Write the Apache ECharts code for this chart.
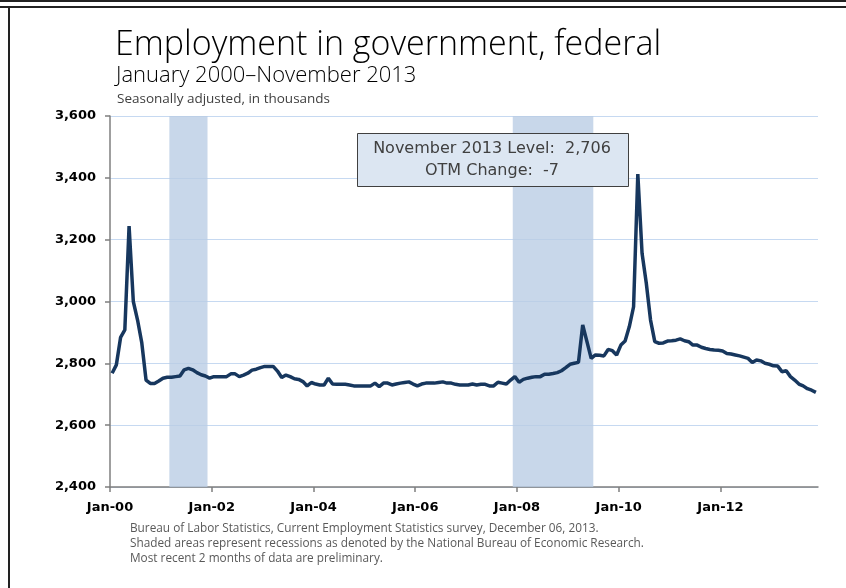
<!DOCTYPE html>
<html>
<head>
<meta charset="utf-8">
<script src="https://cdn.jsdelivr.net/npm/echarts@6/dist/echarts.min.js"></script>
<style>
html,body{margin:0;padding:0;background:#fff;}
#chart{width:846px;height:588px;}
</style>
</head>
<body>
<div id="chart"></div>
<script>
// Monthly federal government employment, thousands, Jan 2000 - Nov 2013
const startYear = 2000;
const values2000 = [2768, 2795, 2884, 2908, 3244, 3000, 2940, 2866, 2746, 2735, 2735, 2743];
const values2001 = [2752, 2755, 2755, 2757, 2759, 2779, 2784, 2779, 2770, 2763, 2759, 2752];
const values2002 = [2757, 2757, 2757, 2757, 2766, 2766, 2757, 2762, 2768, 2778, 2781, 2786];
const values2003 = [2790, 2790, 2790, 2775, 2754, 2762, 2757, 2750, 2748, 2741, 2727, 2738];
const values2004 = [2733, 2730, 2730, 2752, 2733, 2732, 2732, 2732, 2730, 2727, 2727, 2727];
const values2005 = [2727, 2727, 2736, 2725, 2736, 2736, 2730, 2733, 2736, 2738, 2740, 2733];
const values2006 = [2727, 2733, 2736, 2736, 2736, 2738, 2740, 2736, 2736, 2732, 2730, 2730];
const values2007 = [2730, 2733, 2730, 2732, 2732, 2727, 2727, 2739, 2736, 2733, 2746, 2757];
const values2008 = [2739, 2748, 2752, 2755, 2757, 2757, 2765, 2765, 2767, 2770, 2776, 2786];
const values2009 = [2797, 2800, 2803, 2924, 2870, 2816, 2827, 2826, 2824, 2845, 2841, 2827];
const values2010 = [2859, 2872, 2919, 2983, 3412, 3156, 3059, 2940, 2870, 2865, 2866, 2872];
const values2011 = [2873, 2875, 2879, 2873, 2870, 2859, 2859, 2852, 2848, 2845, 2843, 2842];
const values2012 = [2840, 2832, 2830, 2827, 2824, 2820, 2816, 2803, 2811, 2808, 2800, 2797];
const values2013 = [2792, 2791, 2773, 2776, 2757, 2746, 2733, 2727, 2718, 2713, 2706];

const recessionStarts = ['2001-03', '2007-12'];
const recessionEnds = ['2001-11', '2009-06'];
const xTickLabels = ['Jan-00', 'Jan-02', 'Jan-04', 'Jan-06', 'Jan-08', 'Jan-10', 'Jan-12'];

const titleText = 'Employment in government, federal';
const subtitleText = 'January 2000\u2013November 2013';
const unitText = 'Seasonally adjusted, in thousands';
const boxLines = ['November 2013 Level:  2,706', 'OTM Change:  -7'];
const notes = [
  'Bureau of Labor Statistics, Current Employment Statistics survey, December 06, 2013.',
  'Shaded areas represent recessions as denoted by the National Bureau of Economic Research.',
  'Most recent 2 months of data are preliminary.'
];

const values = [].concat(values2000, values2001, values2002, values2003, values2004, values2005,
  values2006, values2007, values2008, values2009, values2010, values2011, values2012, values2013);
const months = values.map((v, i) => {
  const y = startYear + Math.floor(i / 12), m = i % 12 + 1;
  return y + '-' + String(m).padStart(2, '0');
});
const n = values.length;
const lineData = values.map((v, i) => [i + 0.5, v]);
const tickPos = xTickLabels.map(l => months.indexOf('20' + l.slice(4) + '-01'));
const areas = recessionStarts.map((s, k) => [
  { xAxis: months.indexOf(s) },
  { xAxis: months.indexOf(recessionEnds[k]) + 1 }
]);

const chart = echarts.init(document.getElementById('chart'), null, { renderer: 'canvas' });
const FONT = 'DejaVu Sans';
chart.setOption({
  animation: false,
  backgroundColor: '#ffffff',
  grid: { left: 110, right: 28, top: 116, bottom: 101, containLabel: false },
  xAxis: {
    type: 'value', min: 0, max: n,
    axisLine: { show: true, lineStyle: { color: '#7f7f7f', width: 1.5 } },
    axisTick: { show: true, length: 5, lineStyle: { color: '#7f7f7f', width: 1.5 }, customValues: tickPos },
    axisLabel: {
      customValues: tickPos, margin: 14,
      formatter: v => xTickLabels[tickPos.indexOf(Math.round(v))] || '',
      color: '#000', fontFamily: FONT, fontWeight: 'bold', fontSize: 13
    },
    splitLine: { show: false }
  },
  yAxis: {
    type: 'value', min: 2400, max: 3600, interval: 200,
    axisLine: { show: true, lineStyle: { color: '#7f7f7f', width: 1.5 } },
    axisTick: { show: true, length: 5, lineStyle: { color: '#7f7f7f', width: 1.5 } },
    axisLabel: {
      margin: 14, color: '#000', fontFamily: FONT, fontWeight: 'bold', fontSize: 13,
      formatter: v => v.toLocaleString('en-US')
    },
    splitLine: { show: true, lineStyle: { color: '#c6d9f1', width: 1 } }
  },
  series: [
    {
      type: 'line', data: [], silent: true, z: 1,
      markArea: { silent: true, itemStyle: { color: 'rgba(184,204,228,0.78)' }, data: areas }
    },
    {
      type: 'line', data: lineData, showSymbol: false, z: 5,
      lineStyle: { color: '#17375e', width: 3.5 }
    }
  ],
  graphic: [
    { type: 'rect', left: 0, top: 0, shape: { width: 846, height: 2 }, style: { fill: '#222' } },
    { type: 'rect', left: 0, top: 6, shape: { width: 846, height: 2 }, style: { fill: '#222' } },
    { type: 'rect', left: 8, top: 6, shape: { width: 2, height: 582 }, style: { fill: '#222' } },
    { type: 'text', left: 115, top: 28, style: { text: titleText, fill: '#000', font: '300 34px "Open Sans"' } },
    { type: 'text', left: 116, top: 65, style: { text: subtitleText, fill: '#000', font: '300 22px "Open Sans"' } },
    { type: 'text', left: 117, top: 92, style: { text: unitText, fill: '#404040', font: '13.5px "Open Sans"' } },
    { type: 'rect', left: 357, top: 133, z: 20, shape: { width: 271, height: 53 },
      style: { fill: '#dce6f2', stroke: '#404040', lineWidth: 1 } },
    { type: 'text', z: 21,
      style: { text: boxLines[0], x: 492, y: 149, align: 'center', verticalAlign: 'middle', fill: '#404040', font: '16px "DejaVu Sans"' } },
    { type: 'text', z: 21,
      style: { text: boxLines[1], x: 492, y: 171, align: 'center', verticalAlign: 'middle', fill: '#404040', font: '16px "DejaVu Sans"' } },
    { type: 'text', left: 130, top: 523, style: { text: notes[0], fill: '#595959', font: '11.8px "Open Sans"' } },
    { type: 'text', left: 130, top: 538, style: { text: notes[1], fill: '#595959', font: '11.8px "Open Sans"' } },
    { type: 'text', left: 130, top: 553, style: { text: notes[2], fill: '#595959', font: '11.8px "Open Sans"' } }
  ]
});
</script>
</body>
</html>
